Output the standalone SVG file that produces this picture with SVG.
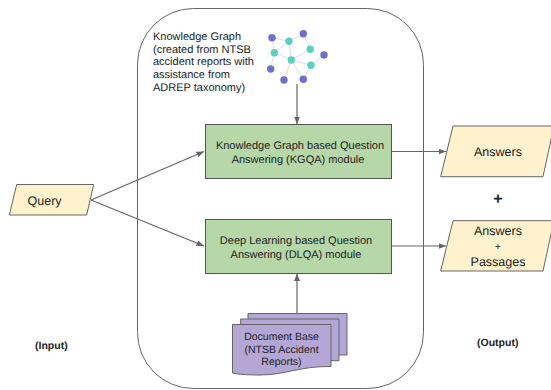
<svg xmlns="http://www.w3.org/2000/svg" width="551" height="390" viewBox="0 0 551 390">
<style>
text{font-family:"Liberation Sans",Arial,sans-serif;font-size:11px;fill:#222;text-rendering:geometricPrecision}
.m{text-anchor:middle}
.l{font-size:12.500px}
.d{font-size:10.500px}
.b{font-weight:bold;font-size:10.500px}
.box{fill:#b6d7a8;stroke:#555;stroke-width:1}
.io{fill:#fff2cc;stroke:#666;stroke-width:1}
.doc{fill:#b4a7d6;stroke:#666;stroke-width:1}
.c{stroke:#666;stroke-width:1.200;fill:none;marker-end:url(#a)}
.e{stroke:#ddd;stroke-width:1;fill:none}
.p{fill:#6f6fd0}
.t{fill:#56d2c0}
</style>
<defs><marker id="a" markerUnits="userSpaceOnUse" markerWidth="8" markerHeight="7" refX="7.500" refY="3" orient="auto"><path d="M0 0L7.500 3L0 6Z" fill="#666"/></marker></defs>
<rect width="551" height="390" fill="#fff"/>
<rect id="container" x="137.500" y="8.500" width="286" height="380" rx="56" ry="56" fill="#fff" stroke="#666"/>
<g id="connectors">
<path class="c" d="M91 200L204 151.500"/>
<path class="c" d="M91 200L204 246"/>
<path class="c" d="M297 84V124"/>
<path class="c" d="M297 313V273.500"/>
<path class="c" d="M392 151.500H446"/>
<path class="c" d="M392 246H446"/>
</g>
<g id="kg-label"><text x="153" y="39.500">Knowledge Graph</text><text x="153" y="52.500">(created from NTSB</text><text x="153" y="65">accident reports with</text><text x="153" y="78">assistance from</text><text x="153" y="91">ADREP taxonomy)</text></g>
<g id="kg-icon">
<path class="e" d="M272 37.700L289 41.300L303.300 33.700L310.300 49.300L291.300 60L289 41.300L274.300 52.700L272 37.700M274.300 52.700L291.300 60L311 65.300L324 55M274.300 52.700L270.700 69M291.300 60L284 80M291.300 60L303.300 79.300M311 65.300L303.300 79.300"/>
<circle class="p" cx="272" cy="37.700" r="3.700"/><circle class="p" cx="303.300" cy="33.700" r="3.700"/><circle class="p" cx="324" cy="55" r="3.700"/><circle class="p" cx="270.700" cy="69" r="3.700"/><circle class="p" cx="284" cy="80" r="3.700"/><circle class="p" cx="303.300" cy="79.300" r="3.700"/>
<circle class="t" cx="289" cy="41.300" r="3.700"/><circle class="t" cx="310.300" cy="49.300" r="3.700"/><circle class="t" cx="274.300" cy="52.700" r="3.700"/><circle class="t" cx="291.300" cy="60" r="3.700"/><circle class="t" cx="311" cy="65.300" r="3.700"/>
</g>
<g id="kgqa"><rect class="box" x="205.500" y="124.500" width="186" height="54"/><text class="m" x="300" y="148.500">Knowledge Graph based Question</text><text class="m" x="298" y="163">Answering (KGQA) module</text></g>
<g id="dlqa"><rect class="box" x="205.500" y="219.500" width="186" height="54"/><text class="m" x="296" y="243.500">Deep Learning based Question</text><text class="m" x="296" y="258">Answering (DLQA) module</text></g>
<g id="query"><path class="io" d="M16.700 184.500H93.700L86.700 215H9.300Z"/><text class="l" x="27.500" y="205">Query</text></g>
<g id="answers"><path class="io" d="M453 126H554L543 176.700H440.700Z"/><text class="m l" x="498" y="156">Answers</text></g>
<text id="plus" class="m" x="498" y="204" style="font-size:16px;font-weight:bold">+</text>
<g id="answers-passages"><path class="io" d="M453 220.700H554L543 271H440.700Z"/><text class="m l" x="498" y="235">Answers</text><text class="m" x="498" y="250" style="font-size:10px">+</text><text class="m l" x="498" y="265.500">Passages</text></g>
<g id="document-base">
<path class="doc" d="M248 313.500H347V355H248Z"/>
<path class="doc" d="M240.700 319H339V360.700H240.700Z"/>
<path class="doc" d="M232.500 324.500H331V366.500C300 366 285 375 260 375C248 375 240 374.500 232.500 373Z"/>
<text class="m d" x="281.500" y="340">Document Base</text><text class="m d" x="281.500" y="352.700">(NTSB Accident</text><text class="m d" x="281.500" y="365">Reports)</text>
</g>
<text id="input" class="b" x="35" y="349">(Input)</text>
<text id="output" class="b" x="477" y="346">(Output)</text>
</svg>
